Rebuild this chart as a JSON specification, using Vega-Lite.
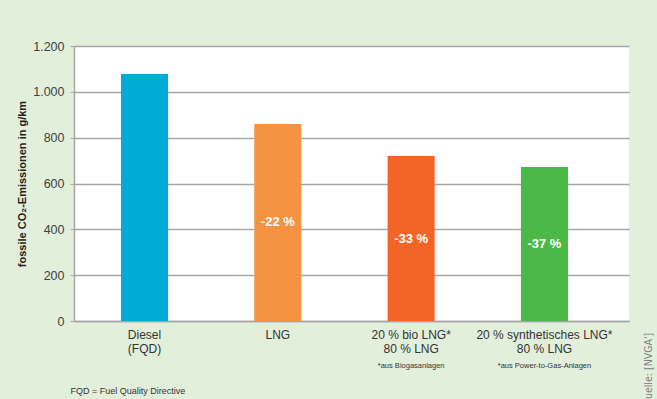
{
  "$schema": "https://vega.github.io/schema/vega-lite/v6.json",
  "width": 555,
  "height": 275,
  "autosize": {"type": "none"},
  "padding": {"left": 74, "top": 46, "right": 28, "bottom": 78},
  "background": "#e2efdb",
  "config": {"view": {"fill": "white", "stroke": null}, "font": "Liberation Sans"},
  "data": {"values": [
    {"cat": "Diesel|(FQD)", "value": 1078, "pct": "", "note": ""},
    {"cat": "LNG", "value": 860, "pct": "-22 %", "note": ""},
    {"cat": "20 % bio LNG*|80 % LNG", "value": 720, "pct": "-33 %", "note": "*aus Biogasanlagen"},
    {"cat": "20 % synthetisches LNG*|80 % LNG", "value": 672, "pct": "-37 %", "note": "*aus Power-to-Gas-Anlagen"}
  ]},
  "encoding": {
    "x": {
      "field": "cat", "type": "nominal", "sort": null,
      "scale": {"paddingInner": 0.647, "paddingOuter": 0.405, "align": 0.435},
      "axis": {"title": "FQD = Fuel Quality Directive", "titleFontSize": 9, "titleFontWeight": "normal", "titleColor": "#333333", "titleX": -4, "titleY": 69, "titleAlign": "left", "titleAnchor": "start", "titleBaseline": "middle", "labelExpr": "split(datum.value, '|')", "labelFontSize": 12, "labelColor": "#333333", "labelAngle": 0, "ticks": false, "domainColor": "#a6a6a6", "domainWidth": 1.5, "labelPadding": 8, "labelLineHeight": 14}
    }
  },
  "layer": [
    {
      "mark": {"type": "bar"},
      "encoding": {
        "y": {
          "field": "value", "type": "quantitative", "scale": {"domain": [0, 1200]},
          "axis": {"orient": "left", "values": [0, 200, 400, 600, 800, 1000, 1200], "labelExpr": "replace(format(datum.value, ','), ',', '.')", "labelFontSize": 12.5, "labelColor": "#404040", "labelPadding": 6, "tickSize": 4, "tickColor": "#a6a6a6", "domainColor": "#a6a6a6", "domainWidth": 1.5, "gridColor": "#a6a6a6", "gridWidth": 1.5, "title": "fossile CO₂-Emissionen in g/km", "titleFontSize": 11, "titleFontWeight": "bold", "titleColor": "#222222", "titleX": -52, "titleY": 137.5, "titleAngle": 270, "titleBaseline": "middle", "titleAlign": "center"}
        },
        "color": {"field": "cat", "type": "nominal", "legend": null, "scale": {"domain": ["Diesel|(FQD)", "LNG", "20 % bio LNG*|80 % LNG", "20 % synthetisches LNG*|80 % LNG"], "range": ["#00acd5", "#f59343", "#f26527", "#4cb848"]}}
      }
    },
    {
      "transform": [{"filter": "datum.pct != ''"}, {"calculate": "datum.value / 2", "as": "mid"}],
      "mark": {"type": "text", "color": "white", "fontWeight": "bold", "fontSize": 13, "baseline": "middle"},
      "encoding": {
        "y": {"field": "mid", "type": "quantitative", "axis": null},
        "text": {"field": "pct"}
      }
    },
    {
      "transform": [{"filter": "datum.note != ''"}],
      "mark": {"type": "text", "fontSize": 7.5, "dy": 45, "color": "#333333", "baseline": "middle"},
      "encoding": {
        "y": {"datum": 0, "type": "quantitative", "axis": {"orient": "right", "labels": false, "ticks": false, "domain": false, "grid": false, "title": "Quelle: [NVGA']", "titleFont": "DejaVu Sans Condensed", "titleFontSize": 10.5, "titleFontWeight": "normal", "titleColor": "#808080", "titleX": 19, "titleY": 360, "titleAngle": 270, "titleAlign": "left", "titleBaseline": "middle"}},
        "text": {"field": "note"}
      }
    }
  ],
  "resolve": {"axis": {"y": "independent"}}
}
